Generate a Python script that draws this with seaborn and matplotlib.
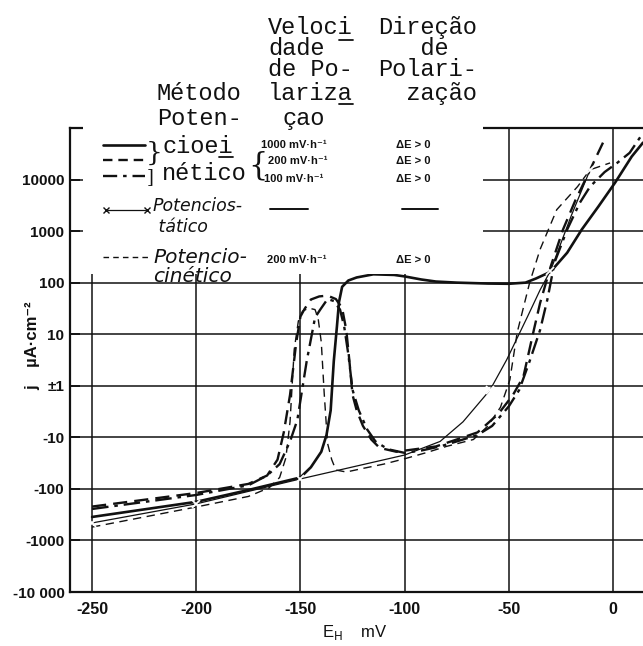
import numpy as np
import pandas as pd
import seaborn as sns
import matplotlib
matplotlib.use("Agg")
import matplotlib.pyplot as plt
from matplotlib.lines import Line2D
from matplotlib.patches import Rectangle
from matplotlib import font_manager as fm
from matplotlib.ticker import NullLocator

# ---------------- data: E_H (mV) vs current density j (µA·cm^-2) ----------------
# potentiokinetic, 1000 mV/h (thick solid)
E_1000 = [-250, -200, -175, -160, -150, -145, -140, -137.5, -135.5, -134, -132.5, -131.5,
          -130, -127, -123, -115, -105, -100, -92, -85, -75, -60, -50, -42, -37, -30,
          -22, -15, -7, 1, 9, 14.4]
j_1000 = [-350, -178, -105, -75, -60, -38, -19, -9, -3, 3, 14, 42,
          83, 110, 126, 145, 141, 132, 115, 105, 100, 96, 95, 100, 120, 162,
          380, 1070, 3000, 8700, 28000, 52000]

# potentiokinetic, 200 mV/h (thick dashed)
E_200 = [-250, -200, -175, -166, -161, -158, -155, -152, -150, -148, -145, -141, -137,
         -133, -130, -128, -126.5, -125, -123, -120, -116, -112, -104, -95, -85, -75,
         -65, -55, -48, -43, -38, -35, -30, -24, -18, -12.5, -4.8]
j_200 = [-220, -120, -80, -55, -27, -8, -1.5, 7, 22, 31, 47, 54, 56,
         48, 32, 12, 3, -1.5, -3, -6, -11, -16, -19, -17, -15, -11,
         -8, -3.5, -1.5, 1.5, 12, 40, 200, 1070, 4000, 11500, 52000]

# potentiokinetic, 100 mV/h (thick dash-dot)
E_100 = [-250, -200, -175, -166, -160, -155, -151.5, -147, -143, -140.5, -137, -134,
         -131, -129, -127, -125, -122, -118, -114, -108, -100, -92, -83, -75, -65, -58,
         -50, -45, -40, -35, -31.5, -28, -22, -16, -11, -4, 2, 8, 14.4]
j_100 = [-245, -131, -85, -55, -33, -12, -4.6, 3, 21, 30, 48, 44,
         30, 14, 4, -1.2, -3, -7, -12, -17, -20, -18, -15, -12, -9, -6,
         -2.5, -1.2, 3, 12, 47, 250, 1070, 3500, 7300, 14000, 21000, 33000, 80000]

# potentiokinetic, 200 mV/h, second run (thin dashed)
E_pc = [-250, -200, -175, -165, -160, -157, -155, -153, -151, -149, -146, -143, -141.5,
        -140, -138.6, -137, -135, -133, -128, -120, -110, -100, -90, -80, -67, -60, -54,
        -49.5, -46, -40, -35, -27, -17, -11, -1.4]
j_pc = [-550, -224, -140, -95, -60, -25, -5, 5, 18, 28, 32, 30, 20,
        7, -1.4, -13, -27, -43, -47, -40, -33, -26, -20, -15, -11, -6, -2.6,
        1.3, 10.7, 100, 440, 2600, 7300, 15500, 21000]

# potentiostatic (thin solid, measured points marked x)
E_ps = [-250, -200, -150, -100, -83, -72, -59, -51, -41, -35, -30, -20, -11]
j_ps = [-457, -195, -64, -22, -12, -5, -1.2, 3.2, 22, 72, 170, 2000, 15500]
ps_measured = [0, 1, 2, 6, 10, 12]

x_ticks = [-250, -200, -150, -100, -50, 0]
x_labels = ["-250", "-200", "-150", "-100", "-50", "0"]
y_ticks = [-10000, -1000, -100, -10, 1, 10, 100, 1000, 10000]
y_labels = ["-10 000", "-1000", "-100", "-10", "±1", "10", "100", "1000", "10000"]

# ---------------- style / fonts ----------------
sns.set_theme(style="white")
names = {f.name for f in fm.fontManager.ttflist}
SANS = "Liberation Sans" if "Liberation Sans" in names else "DejaVu Sans"
MONO = "Liberation Mono" if "Liberation Mono" in names else "DejaVu Sans Mono"
SANS_L = [SANS, "DejaVu Sans"]
HAND = "DejaVu Sans"
plt.rcParams["font.family"] = SANS_L
plt.rcParams["axes.unicode_minus"] = False

W, H = 643, 646
fig = plt.figure(figsize=(W / 100, H / 100), dpi=100)
fig.patch.set_facecolor("white")
L, R, T, B = 70, 643, 128, 592
ax = fig.add_axes([L / W, 1 - B / H, (R - L) / W, (B - T) / H])
ax.set_facecolor("white")

ax.set_yscale("symlog", linthresh=1, linscale=1e-3)
ax.set_xlim(-260.6, 14.4)
ax.set_ylim(-10000, 100000)

ink = "#111111"
sns.lineplot(x=E_1000, y=j_1000, sort=False, estimator=None, color=ink, lw=1.9, ax=ax)
sns.lineplot(x=E_200, y=j_200, sort=False, estimator=None, color=ink, lw=1.7,
             linestyle=(0, (6, 3)), ax=ax)
sns.lineplot(x=E_100, y=j_100, sort=False, estimator=None, color=ink, lw=1.7,
             linestyle=(0, (7, 2.5, 1.5, 2.5)), ax=ax)
sns.lineplot(x=E_pc, y=j_pc, sort=False, estimator=None, color=ink, lw=1.0,
             linestyle=(0, (6, 4)), ax=ax)
sns.lineplot(x=E_ps, y=j_ps, sort=False, estimator=None, color=ink, lw=0.9,
             marker="x", markersize=6, markeredgewidth=1.3, markevery=ps_measured, ax=ax)

# grid and axes
ax.set_xticks(x_ticks)
ax.set_xticklabels(x_labels)
ax.set_yticks(y_ticks)
ax.set_yticklabels(y_labels)
ax.yaxis.set_minor_locator(NullLocator())
ax.xaxis.set_minor_locator(NullLocator())
ax.grid(True, color=ink, lw=1.1)
ax.set_axisbelow(True)
for side in ["left", "bottom", "top"]:
    ax.spines[side].set_visible(True)
    ax.spines[side].set_color(ink)
    ax.spines[side].set_linewidth(1.6)
ax.spines["right"].set_visible(False)
ax.tick_params(axis="y", direction="in", length=7, width=1.3, color=ink, pad=4,
               labelsize=11, labelcolor=ink, left=True)
ax.tick_params(axis="x", length=0, pad=7, labelsize=11.5, labelcolor=ink)
for lab in ax.get_xticklabels() + ax.get_yticklabels():
    lab.set_family(SANS_L)
    lab.set_weight("bold")
ax.set_xlabel("")
ax.set_ylabel("")

# blank panel carrying the key
x0 = (83 - L) / (R - L)
x1 = (483 - L) / (R - L)
y0 = (B - 274) / (B - T)
ax.add_patch(Rectangle((x0, y0), x1 - x0, 1.02 - y0, transform=ax.transAxes,
                       facecolor="white", edgecolor="none", zorder=2.6, clip_on=False))


def ftext(x, y, s, **kw):
    kw.setdefault("va", "baseline")
    kw.setdefault("ha", "left")
    kw.setdefault("color", ink)
    fig.text(x / W, 1 - y / H, s, **kw)


def fline(x0, x1, y, **kw):
    fig.add_artist(Line2D([x0 / W, x1 / W], [1 - y / H, 1 - y / H],
                          transform=fig.transFigure, color=ink, zorder=5, **kw))


# column headings (typewriter); y is the baseline of the last line
FS = 17
CW = 0.6 * FS * 100 / 72          # monospace advance in px
tw = dict(family=MONO, fontsize=FS)
ftext(268, 55, "Veloci\ndade", linespacing=0.9, **tw)
ftext(268, 100, "de Po-\nlariza", linespacing=1.05, **tw)
ftext(283, 125, "çao", **tw)
ftext(378, 55, "Direção\n   de", linespacing=0.9, **tw)
ftext(378, 100, "Polari-\n  zação", linespacing=1.05, **tw)
ftext(157, 125, "Método\nPoten-", linespacing=1.1, **tw)
ftext(162, 180, "cioei\nnético", linespacing=1.2, **tw)
fline(268 + 5 * CW, 268 + 6 * CW, 40, lw=1.3)
fline(268 + 5 * CW, 268 + 6 * CW, 104, lw=1.3)
fline(162 + 4 * CW, 162 + 5 * CW, 157, lw=1.3)

# key: line samples
fline(103, 145, 145, lw=1.9)
fline(103, 145, 160, lw=1.7, linestyle=(0, (4, 2.5)))
fline(103, 145, 176, lw=1.7, linestyle=(0, (6, 2.5, 1.5, 2.5)))
fline(108, 145, 210, lw=0.9)
fig.add_artist(Line2D([106 / W, 147 / W], [1 - 210 / H] * 2, transform=fig.transFigure,
                      color=ink, lw=0, marker="x", markersize=4, markeredgewidth=1, zorder=5))
fline(103, 148, 257, lw=1.0, linestyle=(0, (4, 3)))

# braces
ftext(146, 161, "}", family="DejaVu Serif", fontsize=19)
ftext(147, 182, "]", family="DejaVu Serif", fontsize=13)
ftext(248, 174, "{", family="DejaVu Serif", fontsize=22)

# sweep rates and direction
sk = dict(family=SANS_L, fontsize=8, weight="bold")
ftext(261, 148, "1000 mV·h⁻¹", **sk)
ftext(268, 164, "200 mV·h⁻¹", **sk)
ftext(264, 182, "100 mV·h⁻¹", **sk)
ftext(267, 263, "200 mV·h⁻¹", **sk)
for yy in (148, 164, 182, 263):
    ftext(396, yy, "ΔE > 0", **sk)
fline(270, 308, 209, lw=1.4)
fline(402, 438, 209, lw=1.4)

# handwritten method names (y = baseline of the last line)
hw = dict(family=HAND, style="italic")
ftext(153, 232, "Potencios-\n tático", fontsize=12.5, linespacing=1.2, **hw)
ftext(153, 282, "Potencio-\ncinético", fontsize=14.5, linespacing=1.0, **hw)

# axis titles
ftext(33, 346, "j    µA·cm⁻²", rotation=90, ha="center", va="center",
      family=SANS_L, fontsize=12, weight="bold")
ftext(355, 633, r"E$_\mathrm{H}$    mV", ha="center", va="center",
      family=SANS_L, fontsize=12)

fig.savefig("out.png", dpi=100, facecolor="white")
